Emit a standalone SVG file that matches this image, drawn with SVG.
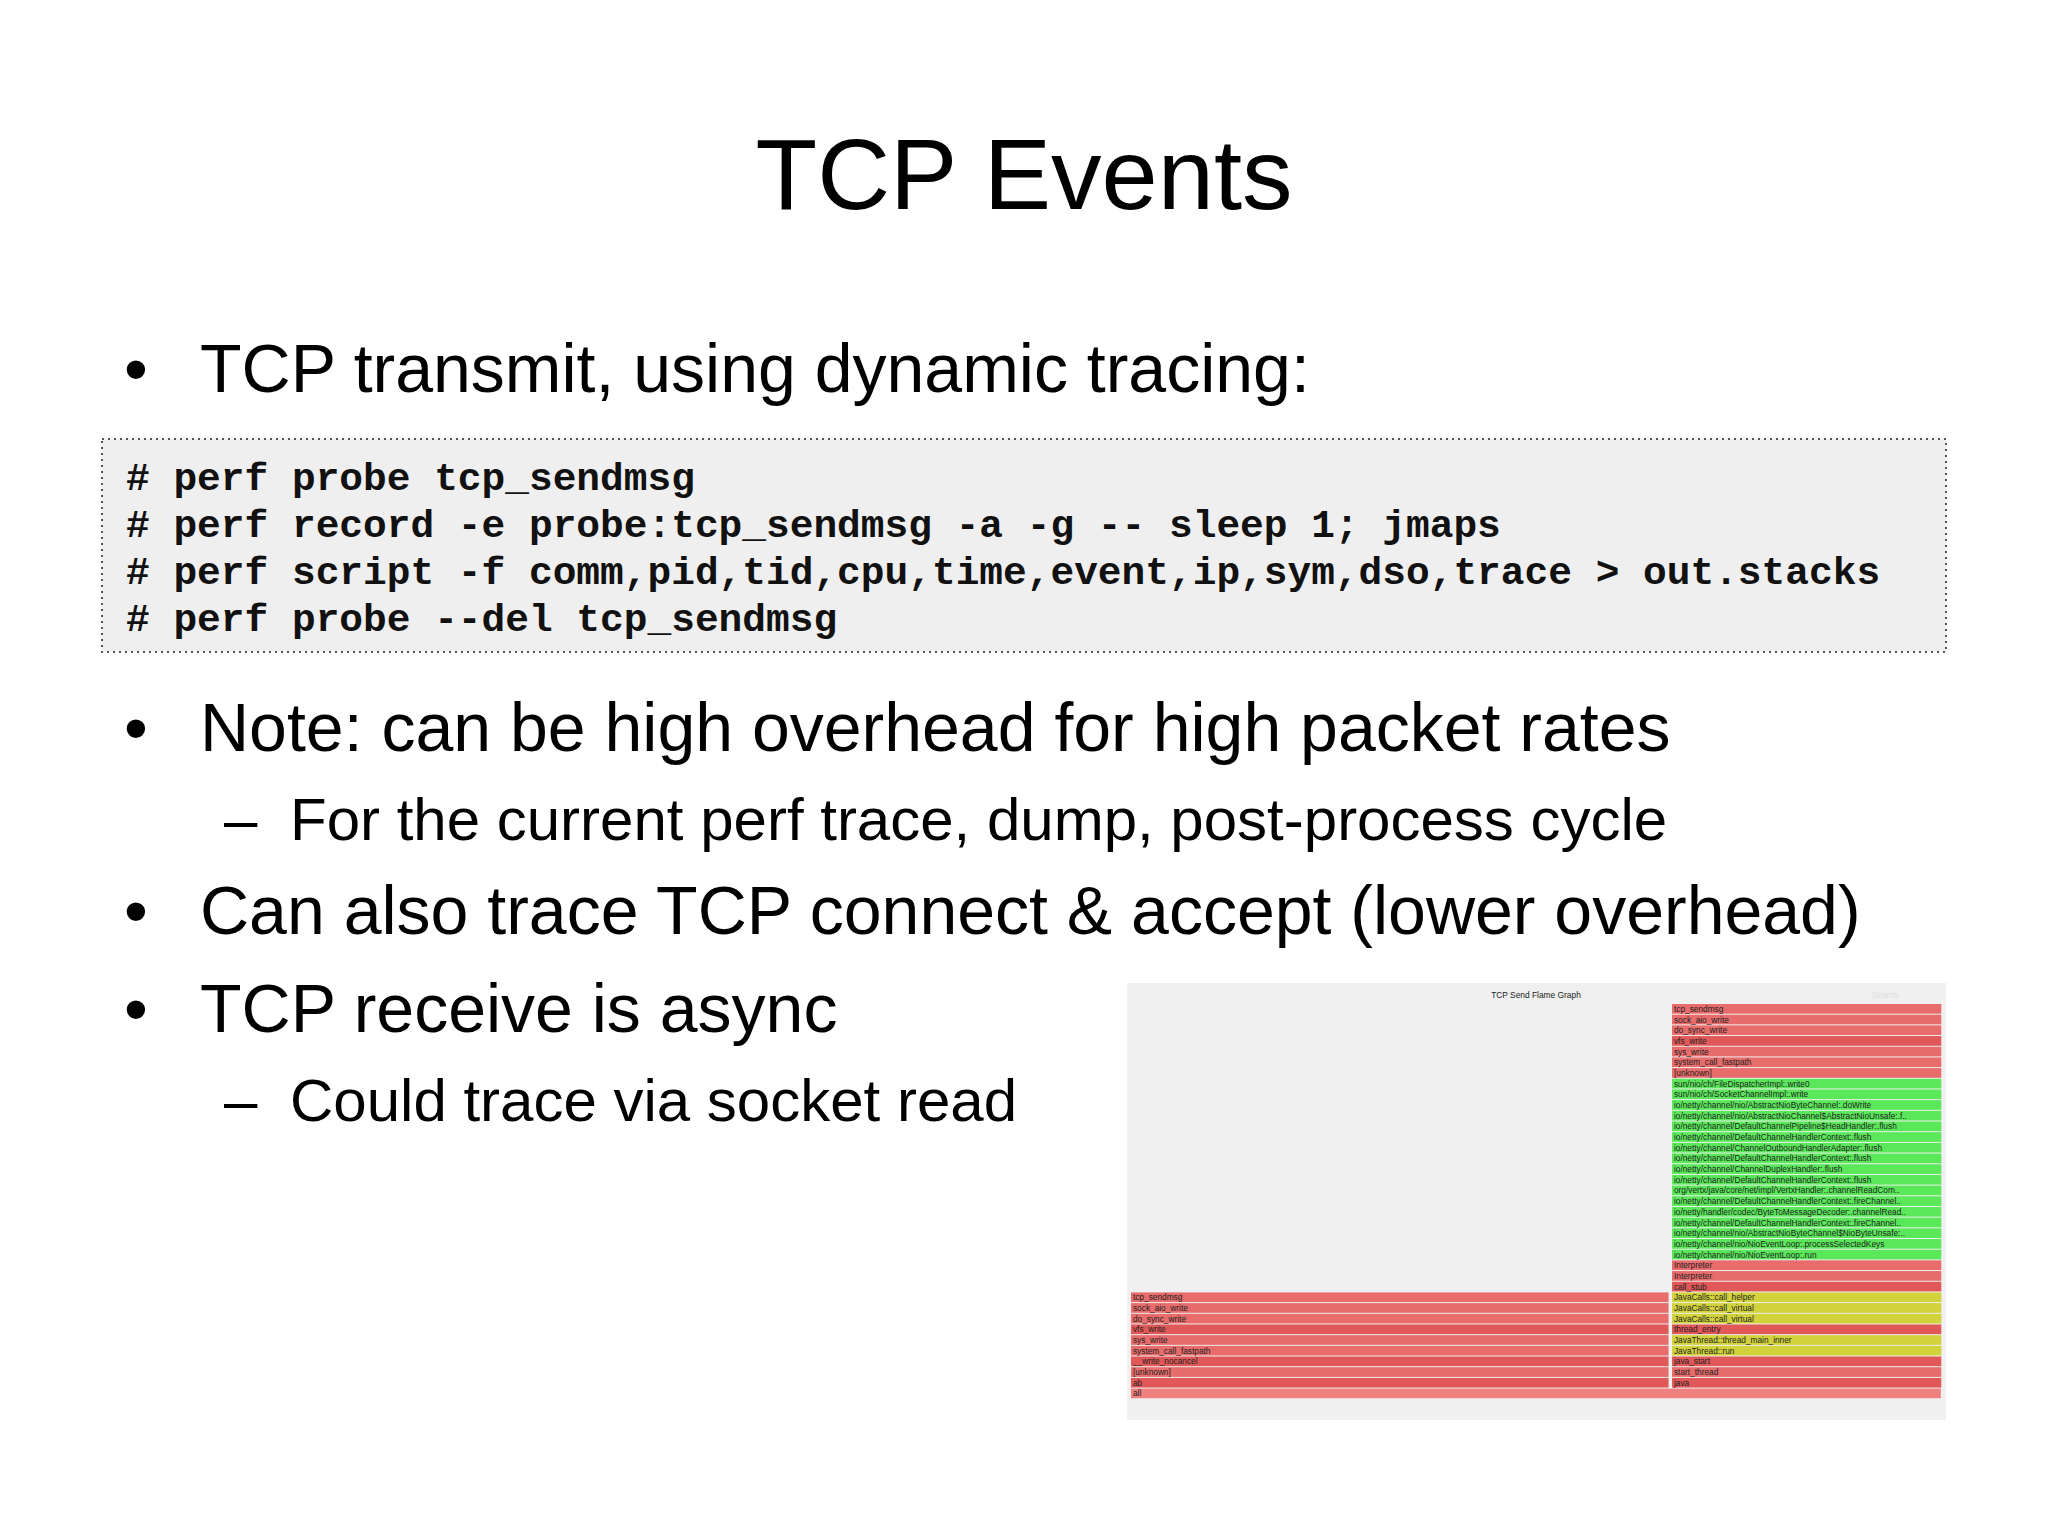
<svg xmlns="http://www.w3.org/2000/svg" width="2048" height="1536" viewBox="0 0 2048 1536">
<style>
.t{font-family:"Liberation Sans",Arial,sans-serif;fill:#000}
.c{font-family:"Liberation Mono","Courier New",monospace;font-weight:bold;font-size:39.5px;fill:#111}
.f{font-family:"Liberation Sans",Arial,sans-serif;font-size:8.4px;fill:#222}
.r{fill:#e86c6c}.r2{fill:#e05858}.g{fill:#5ae85a}.y{fill:#d2d23c}.a{fill:#f08080}
</style>
<rect width="2048" height="1536" fill="#fff"/>
<g id="title"><text class="t" x="1024" y="209" font-size="101" text-anchor="middle">TCP Events</text></g>
<g id="bullets" font-size="68">
<text class="t" x="124" y="392">•</text><text class="t" x="200" y="392">TCP transmit, using dynamic tracing:</text>
<text class="t" x="124" y="751">•</text><text class="t" x="200" y="751">Note: can be high overhead for high packet rates</text>
<text class="t" x="224" y="840" font-size="60">–</text><text class="t" x="290" y="840" font-size="60">For the current perf trace, dump, post-process cycle</text>
<text class="t" x="124" y="934">•</text><text class="t" x="200" y="934">Can also trace TCP connect &amp; accept (lower overhead)</text>
<text class="t" x="124" y="1032">•</text><text class="t" x="200" y="1032">TCP receive is async</text>
<text class="t" x="224" y="1121" font-size="60">–</text><text class="t" x="290" y="1121" font-size="60">Could trace via socket read</text>
</g>
<g id="code">
<rect x="102" y="439" width="1844" height="213" fill="#efefef" stroke="#555" stroke-width="2" stroke-dasharray="2,4"/>
<text class="c" x="126" y="490" xml:space="preserve"># perf probe tcp_sendmsg</text>
<text class="c" x="126" y="537" xml:space="preserve"># perf record -e probe:tcp_sendmsg -a -g -- sleep 1; jmaps</text>
<text class="c" x="126" y="584" xml:space="preserve"># perf script -f comm,pid,tid,cpu,time,event,ip,sym,dso,trace &gt; out.stacks</text>
<text class="c" x="126" y="631" xml:space="preserve"># perf probe --del tcp_sendmsg</text>
</g>
<g id="flamegraph">
<rect x="1127" y="983" width="819" height="437" fill="#f0f0f0"/>
<text class="f" x="1536" y="998" font-size="11" text-anchor="middle">TCP Send Flame Graph</text>
<text class="f" x="1885" y="998" font-size="9" style="fill:#ddd" text-anchor="middle">Search</text>
<g transform="translate(1672,1004) scale(0.99)">
<rect class="r" y="0" width="272" height="9.8"/><text class="f" x="2" y="8">tcp_sendmsg</text>
<rect class="r" y="10.79" width="272" height="9.8"/><text class="f" x="2" y="18.8">sock_aio_write</text>
<rect class="r" y="21.58" width="272" height="9.8"/><text class="f" x="2" y="29.6">do_sync_write</text>
<rect class="r2" y="32.37" width="272" height="9.8"/><text class="f" x="2" y="40.4">vfs_write</text>
<rect class="r" y="43.16" width="272" height="9.8"/><text class="f" x="2" y="51.2">sys_write</text>
<rect class="r" y="53.95" width="272" height="9.8"/><text class="f" x="2" y="62">system_call_fastpath</text>
<rect class="r" y="64.74" width="272" height="9.8"/><text class="f" x="2" y="72.7">[unknown]</text>
<rect class="g" y="75.53" width="272" height="9.8"/><text class="f" x="2" y="83.5">sun/nio/ch/FileDispatcherImpl:.write0</text>
<rect class="g" y="86.32" width="272" height="9.8"/><text class="f" x="2" y="94.3">sun/nio/ch/SocketChannelImpl:.write</text>
<rect class="g" y="97.11" width="272" height="9.8"/><text class="f" x="2" y="105.1">io/netty/channel/nio/AbstractNioByteChannel:.doWrite</text>
<rect class="g" y="107.9" width="272" height="9.8"/><text class="f" x="2" y="115.9">io/netty/channel/nio/AbstractNioChannel$AbstractNioUnsafe:.f..</text>
<rect class="g" y="118.69" width="272" height="9.8"/><text class="f" x="2" y="126.7">io/netty/channel/DefaultChannelPipeline$HeadHandler:.flush</text>
<rect class="g" y="129.48" width="272" height="9.8"/><text class="f" x="2" y="137.5">io/netty/channel/DefaultChannelHandlerContext:.flush</text>
<rect class="g" y="140.27" width="272" height="9.8"/><text class="f" x="2" y="148.3">io/netty/channel/ChannelOutboundHandlerAdapter:.flush</text>
<rect class="g" y="151.06" width="272" height="9.8"/><text class="f" x="2" y="159.1">io/netty/channel/DefaultChannelHandlerContext:.flush</text>
<rect class="g" y="161.85" width="272" height="9.8"/><text class="f" x="2" y="169.9">io/netty/channel/ChannelDuplexHandler:.flush</text>
<rect class="g" y="172.64" width="272" height="9.8"/><text class="f" x="2" y="180.6">io/netty/channel/DefaultChannelHandlerContext:.flush</text>
<rect class="g" y="183.43" width="272" height="9.8"/><text class="f" x="2" y="191.4">org/vertx/java/core/net/impl/VertxHandler:.channelReadCom..</text>
<rect class="g" y="194.22" width="272" height="9.8"/><text class="f" x="2" y="202.2">io/netty/channel/DefaultChannelHandlerContext:.fireChannel..</text>
<rect class="g" y="205.01" width="272" height="9.8"/><text class="f" x="2" y="213">io/netty/handler/codec/ByteToMessageDecoder:.channelRead..</text>
<rect class="g" y="215.8" width="272" height="9.8"/><text class="f" x="2" y="223.8">io/netty/channel/DefaultChannelHandlerContext:.fireChannel..</text>
<rect class="g" y="226.59" width="272" height="9.8"/><text class="f" x="2" y="234.6">io/netty/channel/nio/AbstractNioByteChannel$NioByteUnsafe:..</text>
<rect class="g" y="237.38" width="272" height="9.8"/><text class="f" x="2" y="245.4">io/netty/channel/nio/NioEventLoop:.processSelectedKeys</text>
<rect class="g" y="248.17" width="272" height="9.8"/><text class="f" x="2" y="256.2">io/netty/channel/nio/NioEventLoop:.run</text>
<rect class="r" y="258.96" width="272" height="9.8"/><text class="f" x="2" y="267">Interpreter</text>
<rect class="r" y="269.75" width="272" height="9.8"/><text class="f" x="2" y="277.8">Interpreter</text>
<rect class="r2" y="280.54" width="272" height="9.8"/><text class="f" x="2" y="288.5">call_stub</text>
<rect class="y" y="291.33" width="272" height="9.8"/><text class="f" x="2" y="299.3">JavaCalls::call_helper</text>
<rect class="y" y="302.12" width="272" height="9.8"/><text class="f" x="2" y="310.1">JavaCalls::call_virtual</text>
<rect class="y" y="312.91" width="272" height="9.8"/><text class="f" x="2" y="320.9">JavaCalls::call_virtual</text>
<rect class="r2" y="323.7" width="272" height="9.8"/><text class="f" x="2" y="331.7">thread_entry</text>
<rect class="y" y="334.49" width="272" height="9.8"/><text class="f" x="2" y="342.5">JavaThread::thread_main_inner</text>
<rect class="y" y="345.28" width="272" height="9.8"/><text class="f" x="2" y="353.3">JavaThread::run</text>
<rect class="r2" y="356.07" width="272" height="9.8"/><text class="f" x="2" y="364">java_start</text>
<rect class="r" y="366.86" width="272" height="9.8"/><text class="f" x="2" y="374.9">start_thread</text>
<rect class="r2" y="377.65" width="272" height="9.8"/><text class="f" x="2" y="385.6">java</text>
</g>
<g transform="translate(1131,1004) scale(0.99)">
<rect class="r" y="291.33" width="543" height="9.8"/><text class="f" x="2" y="299.3">tcp_sendmsg</text>
<rect class="r" y="302.12" width="543" height="9.8"/><text class="f" x="2" y="310.1">sock_aio_write</text>
<rect class="r" y="312.91" width="543" height="9.8"/><text class="f" x="2" y="320.9">do_sync_write</text>
<rect class="r2" y="323.7" width="543" height="9.8"/><text class="f" x="2" y="331.7">vfs_write</text>
<rect class="r" y="334.49" width="543" height="9.8"/><text class="f" x="2" y="342.5">sys_write</text>
<rect class="r" y="345.28" width="543" height="9.8"/><text class="f" x="2" y="353.3">system_call_fastpath</text>
<rect class="r2" y="356.07" width="543" height="9.8"/><text class="f" x="2" y="364">__write_nocancel</text>
<rect class="r" y="366.86" width="543" height="9.8"/><text class="f" x="2" y="374.9">[unknown]</text>
<rect class="r2" y="377.65" width="543" height="9.8"/><text class="f" x="2" y="385.6">ab</text>
<rect class="a" y="388.44" width="818" height="9.8"/><text class="f" x="2" y="396.4">all</text>
</g>
</g>
</svg>
